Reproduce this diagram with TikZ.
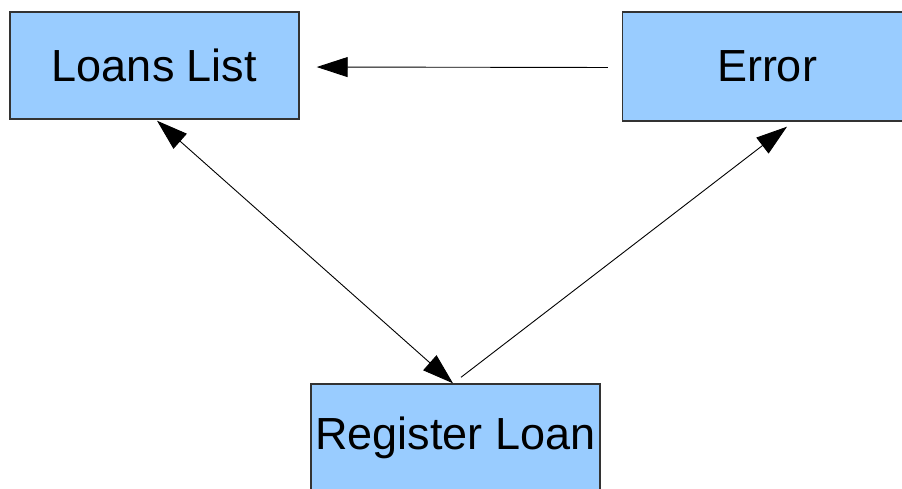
\documentclass[tikz,border=0pt]{standalone}
\usepackage{fontspec}
\setmainfont{Liberation Sans}
\usetikzlibrary{arrows.meta}
\begin{document}
\begin{tikzpicture}[x=1pt,y=-1pt,
  box/.style={draw=black!80, line width=1.4pt, fill={rgb,255:red,153;green,204;blue,255},
    minimum width=289pt, minimum height=107pt, inner sep=0pt,
    font=\fontsize{45}{54}\selectfont},
  link/.style={draw=black, line width=0.9pt,
    arrows={-Triangle[length=31pt,width=20pt]}}]
\useasboundingbox (0,0) rectangle (902,488);
\clip (0,0) rectangle (902,488);
\fill[white] (0,0) rectangle (902,488);

\node[box] (loans) at (154.5,65.5) {Loans List};
\node[box, minimum height=109pt] (err) at (767,66.5) {Error};
\node[box] (reg) at (455.5,437.5) {Register Loan};

% Error back to the list
\draw[link, shorten <=14pt, shorten >=17pt]
  ([yshift=-1pt]err.west) -- ([yshift=-1.5pt]loans.east);
% list and registration, both ways
\draw[link, arrows={Triangle[length=31pt,width=20pt]-Triangle[length=31pt,width=20pt]}]
  ([xshift=2.5pt,yshift=-1pt]loans.south) -- ([xshift=-2.5pt]reg.north);
% registration failing to the error screen
\draw[link]
  ([xshift=5.5pt,yshift=6pt]reg.north) -- ([xshift=20pt,yshift=-5pt]err.south);
\end{tikzpicture}
\end{document}
